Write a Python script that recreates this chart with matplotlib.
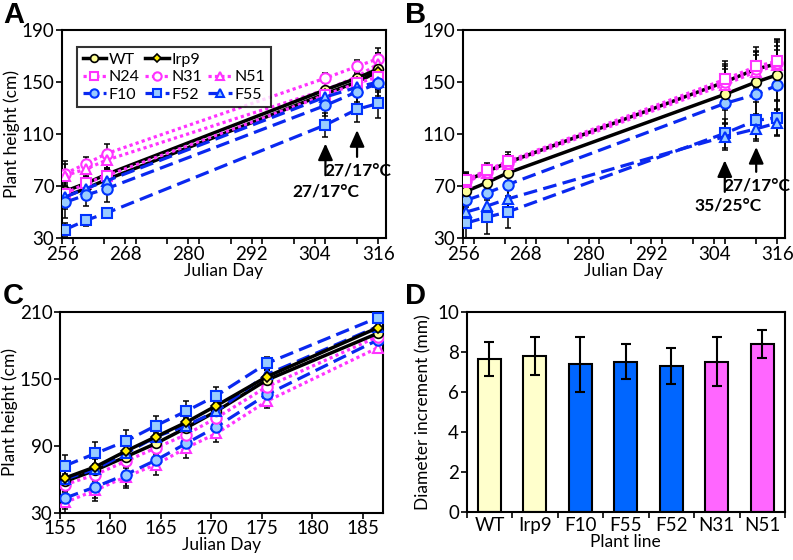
import matplotlib
matplotlib.use("Agg")
import matplotlib.pyplot as plt
from matplotlib.lines import Line2D
from matplotlib.ticker import MultipleLocator

plt.rcParams['font.family'] = ['Lato', 'DejaVu Sans']

# ---------------- data ----------------
days_ab = [256.6, 260.5, 264.5, 306, 312, 316]

A_WT = [66, 72, 79, 144, 153, 160]
A_Irp9 = [62, 68, 75, 141, 150, 158]
A_N24 = [64, 72, 78, 140, 149, 154]
A_N31 = [79.6, 87, 95, 153, 162, 168]
A_N51 = [78, 83, 90, 144, 154, 164]
A_F10 = [57.5, 63, 68, 132, 142.5, 149]
A_F55 = [61.5, 68, 74, 138.5, 146, 150]
A_F52 = [36.5, 43.5, 49.3, 117, 129, 133.5]

A_WT_e = [8, 6, 8, 8, 6, 10]
A_Irp9_e = [8, 6, 8, 8, 6, 14]
A_N24_e = [8, 5, 6, 6, 6, 7]
A_N31_e = [10, 5, 7, 4, 5, 8]
A_N51_e = [9, 6, 8, 6, 6, 8]
A_F10_e = [12, 8, 10, 8, 8, 10]
A_F55_e = [9, 8, 10, 6, 6, 8]
A_F52_e = [5, 4, 4, 9, 10, 11]

B_WT = [66, 72.5, 80, 140.5, 150, 155.5]
B_Irp9 = [74, 81, 88, 150, 160, 164]
B_N24 = [75, 82, 89, 152, 162, 166]
B_N31 = [74, 81, 88, 150, 160, 165]
B_N51 = [73, 80, 87, 148, 158, 163]
B_F10 = [59, 64.5, 71, 133.5, 140.5, 147.5]
B_F55 = [50, 54.5, 60, 108, 114, 118.5]
B_F52 = [41.5, 46, 50, 110.5, 120.5, 122.5]

B_WT_e = [5, 5, 6, 12, 12, 19]
B_Irp9_e = [5, 5, 6, 14, 14, 18]
B_N24_e = [6, 6, 7, 14, 15, 17]
B_N31_e = [6, 5, 6, 12, 13, 16]
B_N51_e = [6, 5, 6, 12, 13, 15]
B_F10_e = [10, 10, 10, 15, 15, 18]
B_F55_e = [12, 12, 12, 10, 9, 10]
B_F52_e = [12, 13, 12, 11, 14, 13]

days_c = [155.5, 158.5, 161.5, 164.5, 167.5, 170.5, 175.5, 186.5]
C_F52 = [72, 83, 94, 108, 121, 135, 164, 205]
C_Irp9 = [61, 71, 85, 98, 111, 126, 152, 196]
C_WT = [58, 68, 80, 92, 106, 121, 149, 191]
C_F55 = [60, 69, 83, 98, 108, 121, 154, 197]
C_N31 = [55, 64, 76, 88, 100, 115, 143, 188]
C_F10 = [43, 53, 64, 77, 92, 107, 136, 185]
C_N51 = [39, 50, 62, 73, 88, 101, 130, 178]
C_err = [10, 10, 10, 9, 9, 8, 6, 4]

lines_d = ['WT', 'Irp9', 'F10', 'F55', 'F52', 'N31', 'N51']
d_mean = [7.66, 7.81, 7.39, 7.53, 7.31, 7.53, 8.41]
d_err = [0.83, 0.93, 1.38, 0.88, 0.90, 1.25, 0.70]
d_colors = ['#FFFFCC', '#FFFFCC', '#0066FF', '#0066FF', '#0066FF', '#FF66FF', '#FF66FF']

# ---------------- styles ----------------
MAG = '#FF33FF'
BLU = '#0A28F0'
BLU_E = '#0033FF'
BLU_F = '#99CCFF'
YEL_F = '#FFFF99'

st = {
    'WT': dict(color='black', lw=2.5, ls='-', marker='o', ms=7, mfc=YEL_F, mec='black', mew=1.2),
    'Irp9': dict(color='black', lw=2.5, ls='-', marker='D', ms=5.5, mfc='#FFEE00', mec='black', mew=1.2),
    'N24': dict(color=MAG, lw=2.3, ls=(0, (1, 1)), marker='s', ms=7, mfc='white', mec=MAG, mew=1.5),
    'N31': dict(color=MAG, lw=2.3, ls=(0, (1, 1)), marker='o', ms=7.5, mfc='white', mec=MAG, mew=1.5),
    'N51': dict(color=MAG, lw=2.3, ls=(0, (1, 1)), marker='^', ms=7.5, mfc='white', mec=MAG, mew=1.5),
    'F10': dict(color=BLU, lw=2.3, ls=(0, (4.3, 2)), marker='o', ms=7.5, mfc=BLU_F, mec=BLU_E, mew=1.5),
    'F52': dict(color=BLU, lw=2.3, ls=(0, (4.3, 2)), marker='s', ms=7, mfc=BLU_F, mec=BLU_E, mew=1.5),
    'F55': dict(color=BLU, lw=2.3, ls=(0, (4.3, 2)), marker='^', ms=7.5, mfc=BLU_F, mec=BLU_E, mew=1.5),
}

TICK_FS = 13.5
LAB_FS = 12.5


def series(ax, x, y, err, name):
    ax.errorbar(x, y, yerr=err, fmt='none', ecolor='black', elinewidth=1.1,
                capsize=2.5, capthick=1.1, zorder=2)
    ax.plot(x, y, zorder=3, label=name, **st[name])


def style_axes(ax):
    for s in ax.spines.values():
        s.set_linewidth(1.5)
        s.set_color('black')
    ax.tick_params(direction='out', length=4, width=1.2, labelsize=TICK_FS, pad=1.5)
    ax.tick_params(which='minor', direction='out', length=4, width=1.2)


fig = plt.figure(figsize=(7.93, 5.6), dpi=100)

# ---------------- panel A ----------------
axA = fig.add_axes([0.0782, 0.575, 0.4086, 0.3714])
series(axA, days_ab, A_N31, A_N31_e, 'N31')
series(axA, days_ab, A_N51, A_N51_e, 'N51')
series(axA, days_ab, A_WT, A_WT_e, 'WT')
series(axA, days_ab, A_Irp9, A_Irp9_e, 'Irp9')
series(axA, days_ab, A_N24, A_N24_e, 'N24')
series(axA, days_ab, A_F55, A_F55_e, 'F55')
series(axA, days_ab, A_F10, A_F10_e, 'F10')
series(axA, days_ab, A_F52, A_F52_e, 'F52')

# ---------------- panel B ----------------
axB = fig.add_axes([0.5839, 0.575, 0.406, 0.3714])
series(axB, days_ab, B_F52, B_F52_e, 'F52')
series(axB, days_ab, B_F55, B_F55_e, 'F55')
series(axB, days_ab, B_F10, B_F10_e, 'F10')
series(axB, days_ab, B_WT, B_WT_e, 'WT')
series(axB, days_ab, B_Irp9, B_Irp9_e, 'Irp9')
series(axB, days_ab, B_N51, B_N51_e, 'N51')
series(axB, days_ab, B_N31, B_N31_e, 'N31')
series(axB, days_ab, B_N24, B_N24_e, 'N24')

for ax in (axA, axB):
    ax.set_xlim(256, 317.5)
    ax.set_ylim(30, 190)
    ax.set_xticks([256, 268, 280, 292, 304, 316])
    ax.xaxis.set_minor_locator(MultipleLocator(6))
    ax.set_yticks([30, 70, 110, 150, 190])
    ax.set_xlabel('Julian Day', fontsize=LAB_FS, labelpad=0)
    style_axes(ax)
axA.set_ylabel('Plant height (cm)', fontsize=LAB_FS, labelpad=1)

# legend in A
h = {l.get_label(): l for l in axA.get_lines()}
blank = Line2D([], [], color='none')
handles = [h['WT'], h['N24'], h['F10'], h['Irp9'], h['N31'], h['F52'], blank, h['N51'], h['F55']]
labels = ['WT', 'N24', 'F10', 'Irp9', 'N31', 'F52', '', 'N51', 'F55']
leg = axA.legend(handles, labels, ncol=3, loc='upper left', bbox_to_anchor=(0.046, 0.918),
                 borderaxespad=0, fontsize=11.5, frameon=True, fancybox=False,
                 handlelength=1.5, handletextpad=0.15, columnspacing=0.35,
                 labelspacing=0.2, borderpad=0.35, markerscale=0.8)
leg.get_frame().set_edgecolor('black')
leg.get_frame().set_linewidth(1.5)

# arrows and labels
arrow_kw = dict(arrowstyle='-|>,head_length=1.0,head_width=0.45', color='black', lw=1.6,
                shrinkA=0, shrinkB=0)
axA.annotate('', xy=(306, 102.7), xytext=(306, 78.3), arrowprops=arrow_kw)
axA.annotate('', xy=(312, 113), xytext=(312, 92.4), arrowprops=arrow_kw)
axA.text(306.1, 65.5, '27/17°C', ha='center', va='center', fontsize=12.5, fontweight='bold')
axA.text(312.2, 82, '27/17°C', ha='center', va='center', fontsize=12.5, fontweight='bold')

axB.annotate('', xy=(306, 89.8), xytext=(306, 65.5), arrowprops=arrow_kw)
axB.annotate('', xy=(312, 100), xytext=(312, 80.9), arrowprops=arrow_kw)
axB.text(306.6, 55, '35/25°C', ha='center', va='center', fontsize=12.5, fontweight='bold')
axB.text(312.2, 70.6, '27/17°C', ha='center', va='center', fontsize=12.5, fontweight='bold')

# ---------------- panel C ----------------
axC = fig.add_axes([0.0757, 0.0848, 0.4073, 0.358])
series(axC, days_c, C_N51, C_err, 'N51')
series(axC, days_c, C_F10, C_err, 'F10')
series(axC, days_c, C_N31, C_err, 'N31')
series(axC, days_c, C_WT, C_err, 'WT')
series(axC, days_c, C_F55, C_err, 'F55')
series(axC, days_c, C_Irp9, C_err, 'Irp9')
series(axC, days_c, C_F52, C_err, 'F52')
axC.set_xlim(155, 187)
axC.set_ylim(30, 210)
axC.set_xticks([155, 160, 165, 170, 175, 180, 185])
axC.set_yticks([30, 90, 150, 210])
axC.set_xlabel('Julian Day', fontsize=LAB_FS, labelpad=0)
axC.set_ylabel('Plant height (cm)', fontsize=LAB_FS, labelpad=1)
style_axes(axC)

# ---------------- panel D ----------------
axD = fig.add_axes([0.5885, 0.0862, 0.4014, 0.3561])
xpos = list(range(len(lines_d)))
axD.bar(xpos, d_mean, width=0.51, color=d_colors, edgecolor='black', linewidth=1.5, zorder=2)
axD.errorbar(xpos, d_mean, yerr=d_err, fmt='none', ecolor='black', elinewidth=1.5,
             capsize=3.5, capthick=1.5, zorder=3)
axD.set_xlim(-0.5, 6.45)
axD.set_ylim(0, 10)
axD.set_yticks([0, 2, 4, 6, 8, 10])
axD.set_xticks(xpos)
axD.set_xticklabels(lines_d)
axD.set_xticks([i - 0.5 for i in range(len(lines_d) + 1)], minor=True)
axD.set_xlabel('Plant line', fontsize=LAB_FS, labelpad=0)
axD.set_ylabel('Diameter increment (mm)', fontsize=LAB_FS, labelpad=4)
style_axes(axD)
axD.tick_params(axis='x', which='major', length=0, pad=4)

# panel letters
for txt, x, y in [('A', 0.004, 0.998), ('B', 0.511, 0.998), ('C', 0.004, 0.497), ('D', 0.511, 0.497)]:
    fig.text(x, y, txt, fontsize=21, fontweight='bold', family=['Liberation Sans', 'DejaVu Sans'],
             ha='left', va='top')

fig.savefig('out.png', dpi=100)
